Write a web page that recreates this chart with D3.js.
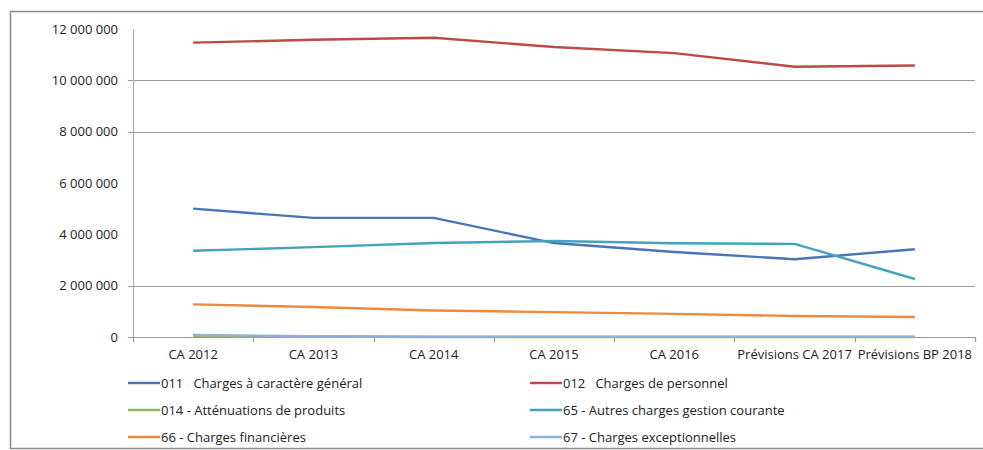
<!DOCTYPE html>
<html>
<head>
<meta charset="utf-8">
<script src="https://cdn.jsdelivr.net/npm/d3@7"></script>
<style>
  body { margin: 0; background: #fff; }
  svg text { font-family: "Open Sans", sans-serif; font-size: 13px; fill: #222; white-space: pre; }
</style>
</head>
<body>
<svg></svg>
<script>
var WIDTH = 983,
	HEIGHT = 450,
	MARGIN = {top: 29, bottom: 113, left: 133, right: 8};

// Categories and series values (euros)
var categories = ["CA 2012", "CA 2013", "CA 2014", "CA 2015", "CA 2016", "Prévisions CA 2017", "Prévisions BP 2018"];
var seriesNames = ["011   Charges à caractère général", "012   Charges de personnel", "014 - Atténuations de produits",
	"65 - Autres charges gestion courante", "66 - Charges financières", "67 - Charges exceptionnelles"];
var s011 = [5000000, 4640000, 4640000, 3660000, 3310000, 3030000, 3420000];
var s012 = [11470000, 11580000, 11660000, 11300000, 11060000, 10530000, 10580000];
var s014 = [40000, 20000, 0, 0, 0, 0, 0];
var s65 = [3360000, 3500000, 3660000, 3740000, 3650000, 3630000, 2260000];
var s66 = [1270000, 1170000, 1030000, 970000, 900000, 820000, 780000];
var s67 = [80000, 30000, 15000, 10000, 10000, 10000, 10000];
var colors = ["#4a74b2", "#bc4a47", "#95b956", "#43a3bd", "#ee8a3e", "#93aed8"];
var yTicks = [0, 2000000, 4000000, 6000000, 8000000, 10000000, 12000000];
var gridValues = [2000000, 8000000, 10000000];

var allSeries = [s011, s012, s014, s65, s66, s67];

var svg = d3.select("svg")
	.attr("width", WIDTH)
	.attr("height", HEIGHT);

// Outer frame
svg.append("rect")
	.attr("x", 10.5).attr("y", 11.5)
	.attr("width", 980).attr("height", 437)
	.attr("fill", "none")
	.attr("stroke", "#8a8a8a")
	.attr("stroke-width", 1.5);

var x = d3.scaleBand()
	.domain(categories)
	.range([MARGIN.left, WIDTH - MARGIN.right])
	.padding(0);

var y = d3.scaleLinear()
	.domain([0, 12000000])
	.range([HEIGHT - MARGIN.bottom, MARGIN.top]);

var fmt = function(d) { return d3.format(",")(d).replace(/,/g, " "); };

// Gridlines
svg.selectAll("line.grid")
	.data(gridValues)
  .enter().append("line")
	.attr("class", "grid")
	.attr("x1", MARGIN.left - 5)
	.attr("x2", WIDTH - MARGIN.right)
	.attr("y1", function(d) { return Math.round(y(d)) + 0.5; })
	.attr("y2", function(d) { return Math.round(y(d)) + 0.5; })
	.attr("stroke", "#9a9a9a")
	.attr("stroke-width", 1.2);

// Y axis line
svg.append("line")
	.attr("x1", MARGIN.left + 0.5).attr("x2", MARGIN.left + 0.5)
	.attr("y1", y(12000000)).attr("y2", y(0))
	.attr("stroke", "#b0b0b0")
	.attr("stroke-width", 1.2);

// Y labels
svg.selectAll("text.ylab")
	.data(yTicks)
  .enter().append("text")
	.attr("class", "ylab")
	.attr("x", MARGIN.left - 15)
	.attr("y", function(d) { return y(d); })
	.attr("dy", "0.35em")
	.attr("text-anchor", "end")
	.text(fmt);

// X axis line and ticks at band edges
svg.append("line")
	.attr("x1", MARGIN.left - 5).attr("x2", WIDTH - MARGIN.right)
	.attr("y1", Math.round(y(0)) + 0.5).attr("y2", Math.round(y(0)) + 0.5)
	.attr("stroke", "#9a9a9a")
	.attr("stroke-width", 1.2);

var edges = categories.map(function(c) { return x(c); }).concat([x(categories[categories.length - 1]) + x.bandwidth()]);
svg.selectAll("line.xtick")
	.data(edges)
  .enter().append("line")
	.attr("class", "xtick")
	.attr("x1", function(d) { return Math.round(d) + 0.5; })
	.attr("x2", function(d) { return Math.round(d) + 0.5; })
	.attr("y1", y(0))
	.attr("y2", y(0) + 5)
	.attr("stroke", "#9a9a9a")
	.attr("stroke-width", 1.2);

svg.selectAll("text.xlab")
	.data(categories)
  .enter().append("text")
	.attr("class", "xlab")
	.attr("x", function(d) { return x(d) + x.bandwidth() / 2; })
	.attr("y", y(0) + 22)
	.attr("text-anchor", "middle")
	.text(function(d) { return d; });

// Lines, in series order so the last one sits on top
var line = d3.line()
	.x(function(d, i) { return x(categories[i]) + x.bandwidth() / 2; })
	.y(function(d) { return y(d); });

svg.selectAll("path.series")
	.data(allSeries)
  .enter().append("path")
	.attr("class", "series")
	.attr("d", line)
	.attr("fill", "none")
	.attr("stroke", function(d, i) { return colors[i]; })
	.attr("stroke-width", 2.4)
	.attr("stroke-linejoin", "round");

// Legend, two columns
var legend = svg.selectAll("g.legend")
	.data(seriesNames)
  .enter().append("g")
	.attr("class", "legend")
	.attr("transform", function(d, i) {
			var col = i % 2, row = Math.floor(i / 2);
			return "translate(" + (128 + col * 402) + "," + (383 + row * 27) + ")";
		});

legend.append("line")
	.attr("x1", 0).attr("x2", 32)
	.attr("y1", 0).attr("y2", 0)
	.attr("stroke", function(d, i) { return colors[i]; })
	.attr("stroke-width", 2.5);

legend.append("text")
	.attr("x", 33)
	.attr("y", 0)
	.attr("dy", "0.35em")
	.text(function(d) { return d; });
</script>
</body>
</html>
